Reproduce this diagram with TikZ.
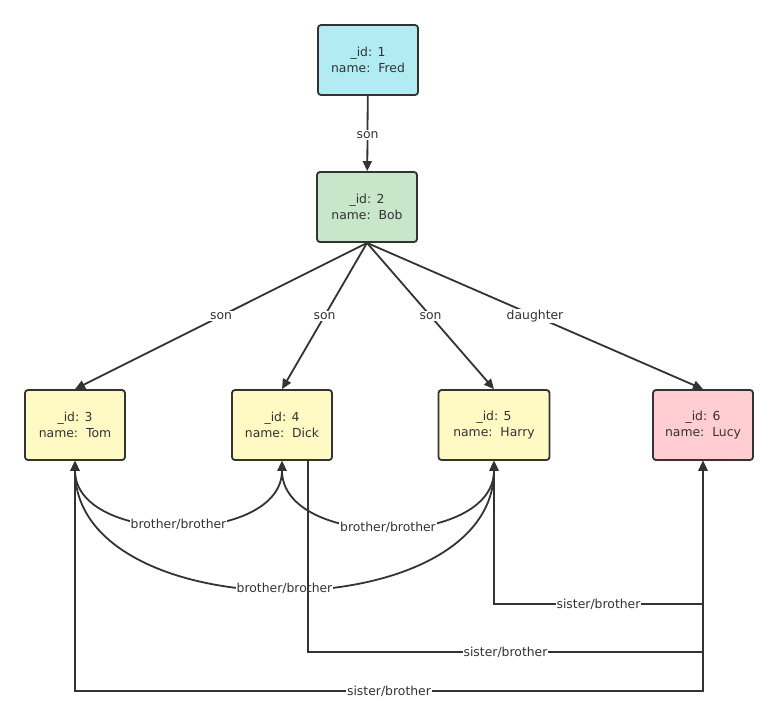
\documentclass[tikz,border=0pt]{standalone}
\usepackage{fontspec}
\setmainfont{DejaVu Sans}
\usetikzlibrary{arrows.meta}
\definecolor{ink}{HTML}{333333}
\definecolor{cyanfill}{HTML}{B2EBF2}
\definecolor{greenfill}{HTML}{C8E6C9}
\definecolor{yellowfill}{HTML}{FFF9C4}
\definecolor{redfill}{HTML}{FFCDD2}
\tikzset{
  ent/.style={draw=ink, line width=1.8pt, rounded corners=3pt, minimum width=100pt,
    minimum height=70pt, align=center, text=ink, inner sep=0pt,
    font=\fontsize{12.4}{16}\selectfont},
  link/.style={draw=ink, line width=1.8pt, -{Triangle[length=10pt,width=9pt]}},
  twoway/.style={draw=ink, line width=1.8pt, {Triangle[length=10pt,width=9pt]}-{Triangle[length=10pt,width=9pt]}},
  backway/.style={draw=ink, line width=1.8pt, {Triangle[length=10pt,width=9pt]}-},
  lbl/.style={fill=white, text=ink, inner sep=1pt, font=\fontsize{12.4}{14}\selectfont}
}
\begin{document}
\begin{tikzpicture}[x=1pt, y=-1pt]
\useasboundingbox (0,0) rectangle (778,716);
\node[ent, fill=cyanfill] (n1) at (368,60) {\_id: 1\\name:\ \ Fred};
\node[ent, fill=greenfill] (n2) at (367,207) {\_id: 2\\name:\ \ Bob};
\node[ent, fill=yellowfill] (n3) at (75,425) {\_id: 3\\name:\ \ Tom};
\node[ent, fill=yellowfill] (n4) at (282,425) {\_id: 4\\name:\ \ Dick};
\node[ent, fill=yellowfill, minimum width=111pt] (n5) at (494,425) {\_id: 5\\name:\ \ Harry};
\node[ent, fill=redfill] (n6) at (703,425) {\_id: 6\\name:\ \ Lucy};

\draw[link] (n1) -- node[lbl, pos=0.52]{son} (n2);
\draw[link] (n2.south) -- node[lbl]{son} (n3.north);
\draw[link] (n2.south) -- node[lbl]{son} (n4.north);
\draw[link] (n2.south) -- node[lbl]{son} (n5.north);
\draw[link] (n2.south) -- node[lbl]{daughter} (n6.north);

\draw[twoway] (n3.south) .. controls +(0,85) and +(0,85) .. node[lbl]{brother/brother} (n4.south);
\draw[twoway] (n4.south) .. controls +(0,88) and +(0,88) .. node[lbl]{brother/brother} (n5.south);
\draw[twoway] (n3.south) .. controls +(0,170) and +(0,170) .. node[lbl]{brother/brother} (n5.south);

\draw[twoway] (n6.south) -- ++(0,143) -| node[lbl, pos=0.25]{sister/brother} (n5.south);
\draw[backway] (n6.south) -- ++(0,191) -| node[lbl, pos=0.25]{sister/brother} ([xshift=26pt]n4.south);
\draw[twoway] (n6.south) -- ++(0,230) -| node[lbl, pos=0.25]{sister/brother} (n3.south);
\end{tikzpicture}
\end{document}
